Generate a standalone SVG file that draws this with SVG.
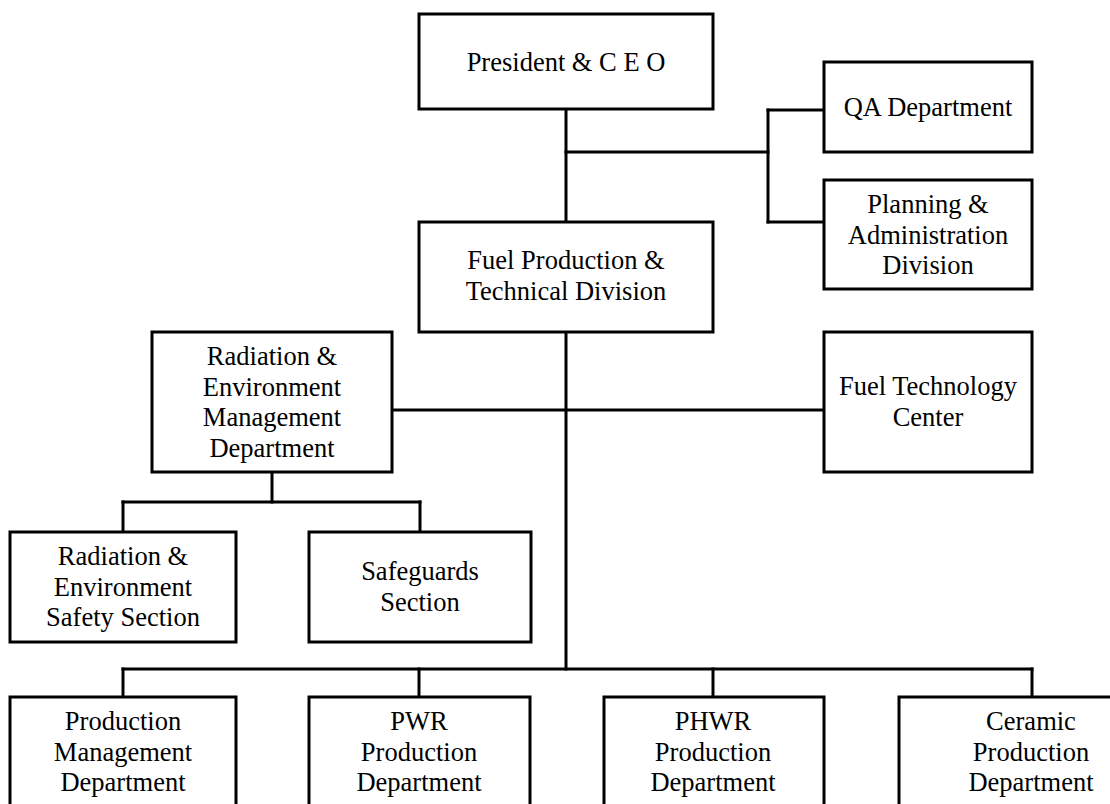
<svg xmlns="http://www.w3.org/2000/svg" width="1110" height="804" viewBox="0 0 1110 804">
  <style>
    .box { fill: #ffffff; stroke: #000000; stroke-width: 3; }
    .wire { fill: none; stroke: #000000; stroke-width: 3; stroke-linecap: square; }
    text { font-family: "Liberation Serif", "Times New Roman", serif; font-size: 26.5px; fill: #000000; text-anchor: middle; }
  </style>
  <rect x="0" y="0" width="1110" height="804" fill="#ffffff"/>

  <!-- reporting lines -->
  <g id="connectors" class="wire">
    <path d="M566 109 V222"/>
    <path d="M566 152 H768"/>
    <path d="M768 110 V222"/>
    <path d="M768 110 H824"/>
    <path d="M768 222 H824"/>
    <path d="M566 332 V669"/>
    <path d="M392 410 H824"/>
    <path d="M272 472 V502"/>
    <path d="M123 502 H420"/>
    <path d="M123 502 V532"/>
    <path d="M420 502 V532"/>
    <path d="M123 669 H1032"/>
    <path d="M123 669 V697"/>
    <path d="M419 669 V697"/>
    <path d="M713 669 V697"/>
    <path d="M1032 669 V697"/>
  </g>

  <g id="president">
    <rect class="box" x="419" y="14" width="294" height="95"/>
    <text x="566" y="71">President &amp; C E O</text>
  </g>

  <g id="qa-department">
    <rect class="box" x="824" y="62" width="208" height="90"/>
    <text x="928" y="116">QA Department</text>
  </g>

  <g id="planning-administration">
    <rect class="box" x="824" y="180" width="208" height="109"/>
    <text x="928" y="213">Planning &amp;</text>
    <text x="928" y="243.5">Administration</text>
    <text x="928" y="274">Division</text>
  </g>

  <g id="fuel-production-technical">
    <rect class="box" x="419" y="222" width="294" height="110"/>
    <text x="566" y="269">Fuel Production &amp;</text>
    <text x="566" y="300">Technical Division</text>
  </g>

  <g id="radiation-environment-management">
    <rect class="box" x="152" y="332" width="240" height="140"/>
    <text x="272" y="365">Radiation &amp;</text>
    <text x="272" y="395.5">Environment</text>
    <text x="272" y="426">Management</text>
    <text x="272" y="456.5">Department</text>
  </g>

  <g id="fuel-technology-center">
    <rect class="box" x="824" y="332" width="208" height="140"/>
    <text x="928" y="395">Fuel Technology</text>
    <text x="928" y="426">Center</text>
  </g>

  <g id="radiation-environment-safety">
    <rect class="box" x="10" y="532" width="226" height="110"/>
    <text x="123" y="565">Radiation &amp;</text>
    <text x="123" y="595.5">Environment</text>
    <text x="123" y="626">Safety Section</text>
  </g>

  <g id="safeguards">
    <rect class="box" x="309" y="532" width="222" height="110"/>
    <text x="420" y="580">Safeguards</text>
    <text x="420" y="610.5">Section</text>
  </g>

  <g id="production-management">
    <rect class="box" x="10" y="697" width="226" height="140"/>
    <text x="123" y="730">Production</text>
    <text x="123" y="760.5">Management</text>
    <text x="123" y="791">Department</text>
  </g>

  <g id="pwr-production">
    <rect class="box" x="309" y="697" width="221" height="140"/>
    <text x="419" y="730">PWR</text>
    <text x="419" y="760.5">Production</text>
    <text x="419" y="791">Department</text>
  </g>

  <g id="phwr-production">
    <rect class="box" x="604" y="697" width="220" height="140"/>
    <text x="713" y="730">PHWR</text>
    <text x="713" y="760.5">Production</text>
    <text x="713" y="791">Department</text>
  </g>

  <g id="ceramic-production">
    <rect class="box" x="899" y="697" width="266" height="140"/>
    <text x="1031" y="730">Ceramic</text>
    <text x="1031" y="760.5">Production</text>
    <text x="1031" y="791">Department</text>
  </g>
</svg>
